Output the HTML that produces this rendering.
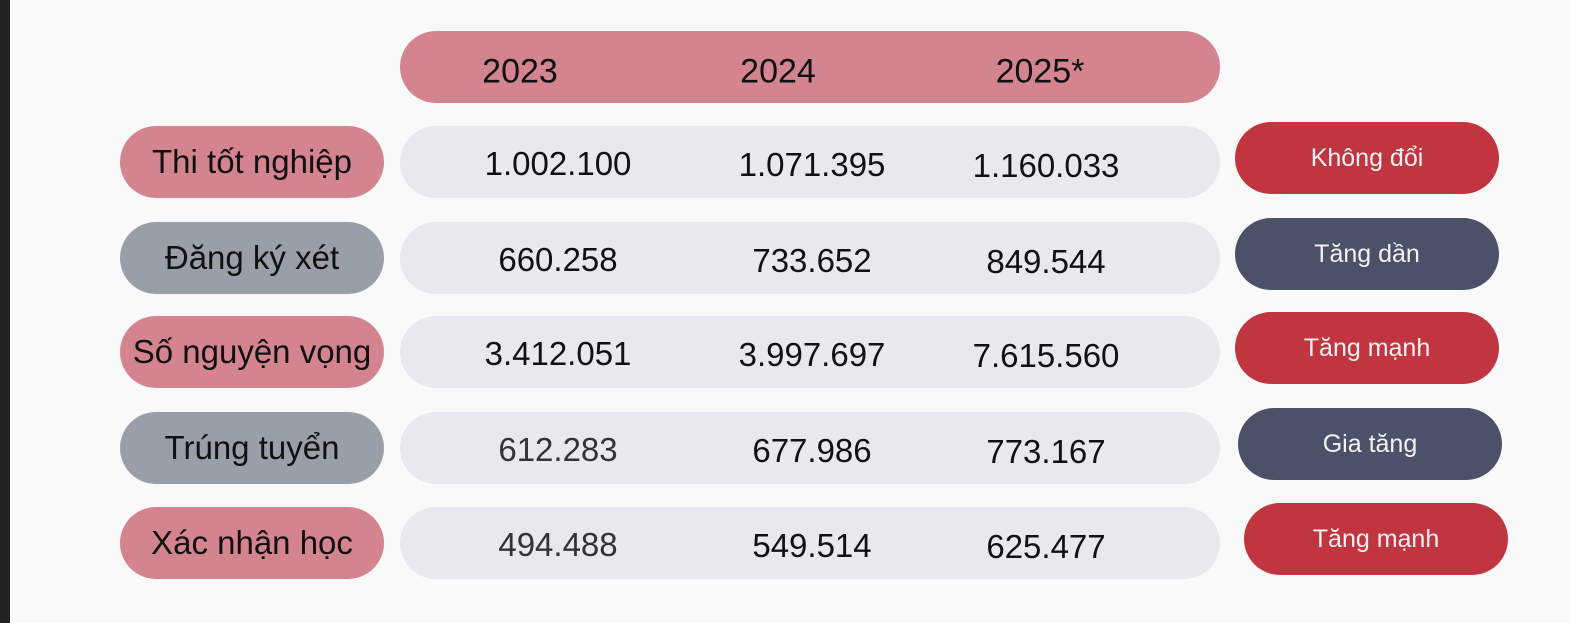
<!DOCTYPE html>
<html><head><meta charset="utf-8"><style>
body{margin:0;width:1570px;height:623px;background:#f9f9f9;position:relative;overflow:hidden;font-family:"Liberation Sans",sans-serif;}
.p{position:absolute;border-radius:38px;display:flex;align-items:center;justify-content:center;white-space:nowrap;}
.t{position:absolute;transform:translate(-50%,-50%);white-space:nowrap;color:#111;}
</style></head><body>
<div style="position:absolute;left:0;top:0;width:10px;height:623px;background:#222"></div>
<div class="p" style="left:400px;top:31px;width:820px;height:72px;background:#d4848f"></div>
<div id="root"></div>
<script>
const years=["2023","2024","2025*"];
const rowLabels=["Thi tốt nghiệp","Đăng ký xét","Số nguyện vọng","Trúng tuyển","Xác nhận học"];
const v2023=["1.002.100","660.258","3.412.051","612.283","494.488"];
const v2024=["1.071.395","733.652","3.997.697","677.986","549.514"];
const v2025=["1.160.033","849.544","7.615.560","773.167","625.477"];
const trends=["Không đổi","Tăng dần","Tăng mạnh","Gia tăng","Tăng mạnh"];
const yearX=[520,778,1040], colX=[558,812,1046];
const rowY=[162,258,352,448,543];
const badgeX=[1235,1235,1235,1238,1244];
const rowColor=["#d4848f","#9a9ea8"], badgeColor=["#c0353f","#4a5168"];
const root=document.getElementById('root');
function mk(cls,style,txt){const d=document.createElement('div');d.className=cls;d.style.cssText=style;if(txt!==undefined)d.textContent=txt;root.appendChild(d);return d;}
years.forEach((y,i)=>{
 const d=mk('t',`left:${yearX[i]}px;top:72px;font-size:34px;`,y);
 
 
});
rowLabels.forEach((l,r)=>{
 const cy=rowY[r];
 const lab=mk('p',`left:120px;top:${cy-36}px;width:264px;height:72px;background:${rowColor[r%2]};font-size:33px;color:#111;`,l);
 
 
 const bg=mk('p',`left:400px;top:${cy-36}px;width:820px;height:72px;background:#e8e8ed;`);
 
 
 [v2023,v2024,v2025].forEach((arr,c)=>{
  const t=mk('t',`left:${colX[c]}px;top:${cy+2+c*1}px;font-size:33px;color:${c==0&&r>2?'#333':'#111'};`,arr[r]);
  
  
 });
 const b=mk('p',`left:${badgeX[r]}px;top:${cy-40}px;width:264px;height:72px;background:${badgeColor[r%2]};font-size:25px;color:#f3f3f3;`,trends[r]);
 
 
});
</script>
</body></html>
